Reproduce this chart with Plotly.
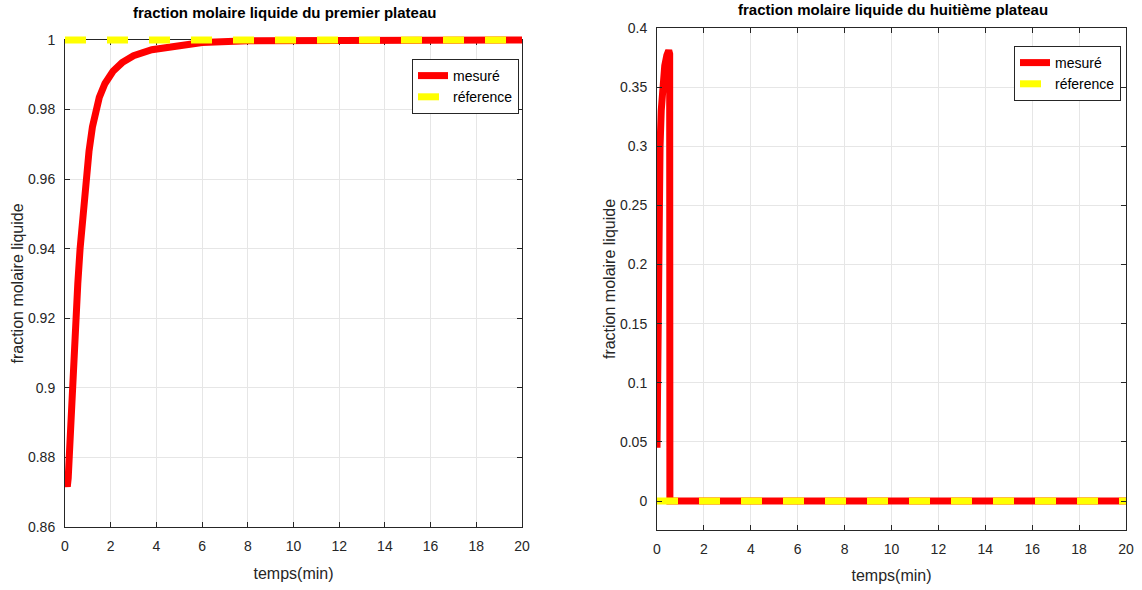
import plotly.graph_objects as go

# --- plateau 1: measured liquid mole fraction vs time (min)
t1 = [0, 0.05, 0.1, 0.14, 0.18, 0.24, 0.29, 0.38, 0.47, 0.56, 0.66, 0.73, 0.8, 0.9,
      1.05, 1.2, 1.31, 1.5, 1.75, 2.1, 2.5, 3.0, 3.8, 5, 6, 8, 10, 14, 20]
x1 = [0.8745, 0.8722, 0.8716, 0.874, 0.880, 0.890, 0.900, 0.910, 0.920, 0.930,
      0.940, 0.945, 0.950, 0.960, 0.968, 0.975, 0.979, 0.9835, 0.9875, 0.9910,
      0.9935, 0.9955, 0.9972, 0.9986, 0.9993, 0.9998, 0.9999, 1.0, 1.0]

# --- plateau 8
t8 = [0, 0.02, 0.04, 0.06, 0.085, 0.13, 0.18, 0.24, 0.33, 0.42, 0.5, 0.54, 0.55,
      0.55, 1, 20]
x8 = [0.045, 0.10, 0.15, 0.20, 0.25, 0.30, 0.33, 0.35, 0.368, 0.377, 0.381, 0.378,
      0.30, 0.0, 0.0, 0.0]

t_ref = [0, 20]
ref1 = [1.0, 1.0]
ref8 = [0.0, 0.0]

y1_ticks = [0.86, 0.88, 0.9, 0.92, 0.94, 0.96, 0.98, 1]
y1_text = ["0.86", "0.88", "0.9", "0.92", "0.94", "0.96", "0.98", "1"]
y8_ticks = [0, 0.05, 0.1, 0.15, 0.2, 0.25, 0.3, 0.35, 0.4]
y8_text = ["0", "0.05", "0.1", "0.15", "0.2", "0.25", "0.3", "0.35", "0.4"]
x_ticks = list(range(0, 21, 2))

titles = ["fraction molaire liquide du premier plateau",
          "fraction molaire liquide du huitième plateau"]
ylabel = "fraction molaire liquide"
xlabel = "temps(min)"

FONT = "Liberation Sans, Arial, Helvetica, sans-serif"
INK = "#262626"
GRID = "#e6e6e6"
RED = "#ff0000"
YEL = "#ffff00"
W = 1142
H = 590

# pixel frame of each panel
L1, R1, T1, B1 = 65, 522, 40, 527
L2, R2, T2, B2 = 657, 1126, 28, 530
Y1_RANGE = [0.86, 1.0]
Y2_RANGE = [-0.0245, 0.4]
PAD = 6  # extra room so thick lines lying on the frame are not cut in half


def px_x(p):
    return p / W


def px_y(p):
    return 1 - p / H


# The left panel's curves live on a hidden axis pair whose frame is a few pixels
# taller, with a range stretched so data values land on the same pixels.
span1 = Y1_RANGE[1] - Y1_RANGE[0]
y1_draw_range = [Y1_RANGE[0], Y1_RANGE[0] + span1 * (B1 - (T1 - PAD)) / (B1 - T1)]

fig = go.Figure()

# empty trace so the visible left frame, grid and ticks are built
fig.add_trace(go.Scatter(x=[], y=[], mode="lines", xaxis="x", yaxis="y",
                         showlegend=False, hoverinfo="skip"))
fig.add_trace(go.Scatter(x=t1, y=x1, mode="lines", name="mesuré",
                         line=dict(color=RED, width=7), xaxis="x3", yaxis="y3",
                         legend="legend"))
fig.add_trace(go.Scatter(x=t_ref, y=ref1, mode="lines", name="réference",
                         line=dict(color=YEL, width=7, dash="21px,21px"),
                         xaxis="x3", yaxis="y3", legend="legend"))
fig.add_trace(go.Scatter(x=t8, y=x8, mode="lines", name="mesuré",
                         line=dict(color=RED, width=7), xaxis="x2", yaxis="y2",
                         legend="legend2"))
fig.add_trace(go.Scatter(x=t_ref, y=ref8, mode="lines", name="réference",
                         line=dict(color=YEL, width=7, dash="21px,21px"),
                         xaxis="x2", yaxis="y2", legend="legend2"))

title_font = dict(family=FONT, size=16, color=INK)
axis_common = dict(showline=True, linecolor=INK, linewidth=1, mirror="allticks",
                   ticks="inside", ticklen=5, tickcolor=INK, showgrid=True,
                   gridcolor=GRID, gridwidth=1, zeroline=False, automargin=False,
                   tickfont=dict(family=FONT, size=14, color=INK))

fig.update_layout(
    template="none",
    width=W, height=H, margin=dict(l=0, r=0, t=0, b=0, autoexpand=False),
    paper_bgcolor="white", plot_bgcolor="rgba(0,0,0,0)",
    font=dict(family=FONT, color=INK),
    xaxis=dict(domain=[px_x(L1), px_x(R1)], range=[0, 20], tickvals=x_ticks,
               anchor="y", ticklabelstandoff=6,
               title=dict(text=xlabel, font=title_font, standoff=15),
               **axis_common),
    yaxis=dict(domain=[px_y(B1), px_y(T1)], range=Y1_RANGE, tickvals=y1_ticks,
               ticktext=y1_text, anchor="x", ticklabelstandoff=6,
               title=dict(text=ylabel, font=title_font, standoff=0),
               **axis_common),
    xaxis3=dict(domain=[px_x(L1), px_x(R1)], range=[0, 20], anchor="y3",
                visible=False, showgrid=False, zeroline=False, automargin=False),
    yaxis3=dict(domain=[px_y(B1), px_y(T1 - PAD)], range=y1_draw_range, anchor="x3",
                visible=False, showgrid=False, zeroline=False, automargin=False),
    xaxis2=dict(domain=[px_x(L2), px_x(R2)], range=[0, 20], tickvals=x_ticks,
                anchor="y2", ticklabelstandoff=6,
                title=dict(text=xlabel, font=title_font, standoff=14),
                **axis_common),
    yaxis2=dict(domain=[px_y(B2), px_y(T2)], range=Y2_RANGE, tickvals=y8_ticks,
                ticktext=y8_text, anchor="x2", ticklabelstandoff=6,
                title=dict(text=ylabel, font=title_font, standoff=0),
                **axis_common),
    legend=dict(x=px_x(412), y=px_y(59), xanchor="left", yanchor="top",
                bgcolor="white", bordercolor=INK, borderwidth=1,
                font=dict(family=FONT, size=14, color="#000000")),
    legend2=dict(x=px_x(1014), y=px_y(46), xanchor="left", yanchor="top",
                 bgcolor="white", bordercolor=INK, borderwidth=1,
                 font=dict(family=FONT, size=14, color="#000000")),
    showlegend=True,
)

fig.add_annotation(text="<b>" + titles[0] + "</b>", x=px_x(284), y=px_y(12),
                   xref="paper", yref="paper", xanchor="center", yanchor="middle",
                   showarrow=False, font=dict(family=FONT, size=15, color="#000000"))
fig.add_annotation(text="<b>" + titles[1] + "</b>", x=px_x(893), y=px_y(10),
                   xref="paper", yref="paper", xanchor="center", yanchor="middle",
                   showarrow=False, font=dict(family=FONT, size=15, color="#000000"))

fig.write_html("out.html")
